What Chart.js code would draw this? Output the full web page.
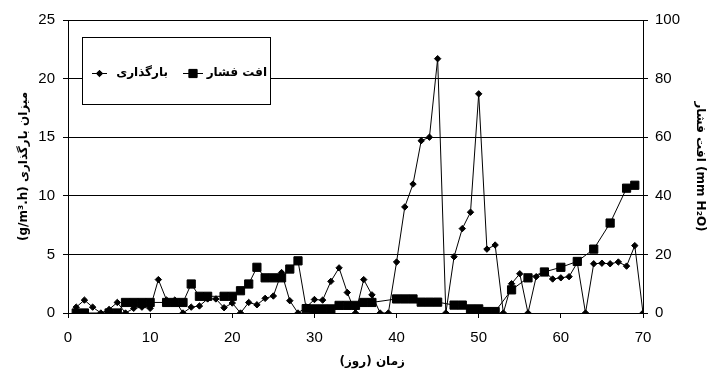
<!DOCTYPE html>
<html>
<head>
<meta charset="utf-8">
<script src="https://cdn.jsdelivr.net/npm/chart.js@4"></script>
<style>
  html, body { margin: 0; padding: 0; background: #fff; }
  #chart { display: block; }
</style>
</head>
<body>
<canvas id="chart" width="707" height="372"></canvas>
<script>
// بارگذاری (g/m3.h) - روزهای 1 تا 70
const loadingDays = [1, 2, 3, 4, 5, 6, 7, 8, 9, 10, 11, 12, 13, 14, 15, 16, 17, 18, 19, 20,
  21, 22, 23, 24, 25, 26, 27, 28, 29, 30, 31, 32, 33, 34, 35, 36, 37, 38, 39, 40,
  41, 42, 43, 44, 45, 46, 47, 48, 49, 50, 51, 52, 53, 54, 55, 56, 57, 58, 59, 60,
  61, 62, 63, 64, 65, 66, 67, 68, 69, 70];
const loadingValues = [0.5, 1.1, 0.5, 0, 0.3, 0.9, 0, 0.4, 0.5, 0.4, 2.85, 1.1, 1.1, 0, 0.5, 0.6, 1.2, 1.2, 0.45, 0.85,
  0, 0.9, 0.7, 1.25, 1.45, 3.45, 1.05, 0, 0.5, 1.15, 1.1, 2.7, 3.85, 1.75, 0, 2.85, 1.55, 0, 0, 4.35,
  9.05, 11.0, 14.7, 15.0, 21.7, 0, 4.8, 7.2, 8.6, 18.7, 5.45, 5.8, 0, 2.5, 3.35, 0, 3.1, 3.55, 2.9, 3.0,
  3.1, 4.3, 0, 4.2, 4.25, 4.2, 4.35, 4.0, 5.75, 0];

// افت فشار (mm H2O) - فقط روزهای اندازه گیری شده
const pressureDays = [1, 2, 5, 6, 7, 8, 9, 10, 12, 13, 14, 15, 16, 17, 19, 20, 21, 22, 23, 24,
  25, 26, 27, 28, 29, 30, 31, 32, 33, 34, 35, 36, 37, 40, 41, 42, 43, 44, 45, 47,
  48, 49, 50, 51, 52, 54, 56, 58, 60, 62, 64, 66, 68, 69];
const pressureValues = [0, 0, 0, 0, 3.6, 3.6, 3.6, 3.6, 3.6, 3.6, 3.6, 9.9, 5.7, 5.7, 5.7, 5.7, 7.6, 9.9, 15.6, 12,
  12, 12, 15, 17.8, 1.5, 1.4, 1.4, 1.4, 2.6, 2.6, 2.6, 3.6, 3.6, 4.8, 4.8, 4.8, 3.7, 3.7, 3.7, 2.7,
  2.7, 1.4, 1.4, 0.5, 0.5, 7.9, 12, 14, 15.6, 17.6, 21.8, 30.7, 42.6, 43.6];

// محورها
const xTicks = [0, 10, 20, 30, 40, 50, 60, 70];
const leftTicks = [0, 5, 10, 15, 20, 25];
const rightTicks = [0, 20, 40, 60, 80, 100];

const loadingLabel = 'بارگذاری';
const pressureLabel = 'افت فشار';

const FONT = "'Liberation Sans', 'DejaVu Sans', Arial, sans-serif";
const TITLE_FONT = "'DejaVu Sans', 'Liberation Sans', sans-serif";

Chart.defaults.font.family = FONT;
Chart.defaults.color = '#000';

// پس زمینه سفید
const whiteBg = {
  id: 'whiteBg',
  beforeDraw(chart) {
    const ctx = chart.ctx;
    ctx.save();
    ctx.fillStyle = '#fff';
    ctx.fillRect(0, 0, chart.width, chart.height);
    ctx.restore();
  }
};

// راهنما داخل نمودار (مثل اکسل)
const boxLegend = {
  id: 'boxLegend',
  afterDraw(chart) {
    const ctx = chart.ctx;
    const area = chart.chartArea;
    const L = area.left + 14;
    const T = area.top + 17;
    const W = 188, H = 67;
    const cy = T + 36;
    ctx.save();
    ctx.fillStyle = '#fff';
    ctx.fillRect(L, T, W, H);
    ctx.strokeStyle = '#000';
    ctx.lineWidth = 1;
    ctx.strokeRect(L + 0.5, T + 0.5, W, H);

    const ds = chart.data.datasets;
    const items = [
      { ds: ds[0], x0: L + 10, x1: L + 25, textRight: L + 86 },
      { ds: ds[1], x0: L + 101, x1: L + 121, textRight: L + 185 }
    ];
    items.forEach(it => {
      ctx.strokeStyle = '#000';
      ctx.lineWidth = 1;
      ctx.beginPath();
      ctx.moveTo(it.x0, cy + 0.5);
      ctx.lineTo(it.x1, cy + 0.5);
      ctx.stroke();
      ctx.fillStyle = '#000';
      Chart.helpers.drawPoint(ctx, {
        pointStyle: it.ds.pointStyle,
        radius: it.ds.pointRadius,
        borderWidth: 1,
        rotation: 0
      }, (it.x0 + it.x1) / 2, cy + 0.5);
      ctx.fill();
      ctx.font = 'bold 12px ' + TITLE_FONT;
      ctx.textAlign = 'right';
      ctx.textBaseline = 'middle';
      ctx.fillText(it.ds.label, it.textRight, cy);
    });
    ctx.restore();
  }
};

const chartConfig = {
  type: 'line',
  data: {
    datasets: [
      {
        label: loadingLabel,
        data: loadingDays.map((d, i) => ({ x: d, y: loadingValues[i] })),
        yAxisID: 'y',
        borderColor: '#000',
        backgroundColor: '#000',
        borderWidth: 1,
        pointStyle: 'rectRot',
        pointRadius: 3.2,
        pointBorderWidth: 1,
        tension: 0,
        order: 1
      },
      {
        label: pressureLabel,
        data: pressureDays.map((d, i) => ({ x: d, y: pressureValues[i] })),
        yAxisID: 'y1',
        borderColor: '#000',
        backgroundColor: '#000',
        borderWidth: 1,
        pointStyle: 'rect',
        pointRadius: 5.8,
        pointBorderWidth: 1,
        tension: 0,
        order: 0
      }
    ]
  },
  options: {
    responsive: false,
    animation: false,
    layout: { padding: { top: 20, left: 0, right: 0, bottom: 0 } },
    plugins: {
      legend: { display: false },
      tooltip: { enabled: false }
    },
    scales: {
      x: {
        type: 'linear',
        min: 0,
        max: 70,
        afterBuildTicks(scale) { scale.ticks = xTicks.map(v => ({ value: v })); },
        afterFit(scale) { scale.height = 59; },
        ticks: { font: { size: 15 }, padding: 11, maxRotation: 0 },
        grid: { drawOnChartArea: false, tickLength: 5, color: '#000', lineWidth: 1 },
        border: { color: '#000', width: 1 },
        title: {
          display: true,
          // عنوان کمی به راست (مثل تصویر اصلی)
          text: '        \u2067زمان (روز)\u2069',
          font: { family: TITLE_FONT, size: 12, weight: 'bold' },
          padding: { top: 0, bottom: 3 }
        }
      },
      y: {
        position: 'left',
        min: 0,
        max: 25,
        afterBuildTicks(scale) { scale.ticks = leftTicks.map(v => ({ value: v })); },
        afterFit(scale) { scale.width = 68; },
        ticks: { font: { size: 15 }, padding: 8 },
        grid: { color: '#000', lineWidth: 1, tickLength: 5 },
        border: { color: '#000', width: 1 },
        title: {
          display: true,
          text: '(g/m³.h) میزان بارگذاری',
          font: { family: TITLE_FONT, size: 12, weight: 'bold' },
          padding: { top: 17, bottom: 0 }
        }
      },
      y1: {
        position: 'right',
        min: 0,
        max: 100,
        afterBuildTicks(scale) { scale.ticks = rightTicks.map(v => ({ value: v })); },
        afterFit(scale) { scale.width = 64; },
        ticks: { font: { size: 15 }, padding: 7 },
        grid: { drawOnChartArea: false, color: '#000', lineWidth: 1, tickLength: 5 },
        border: { color: '#000', width: 1 },
        title: {
          display: true,
          text: 'افت فشار (mm H₂O)',
          font: { family: TITLE_FONT, size: 12, weight: 'bold' },
          padding: { top: 0, bottom: 0 }
        }
      }
    }
  },
  plugins: [whiteBg, boxLegend]
};

const chart = new Chart(document.getElementById('chart'), chartConfig);
</script>
</body>
</html>
